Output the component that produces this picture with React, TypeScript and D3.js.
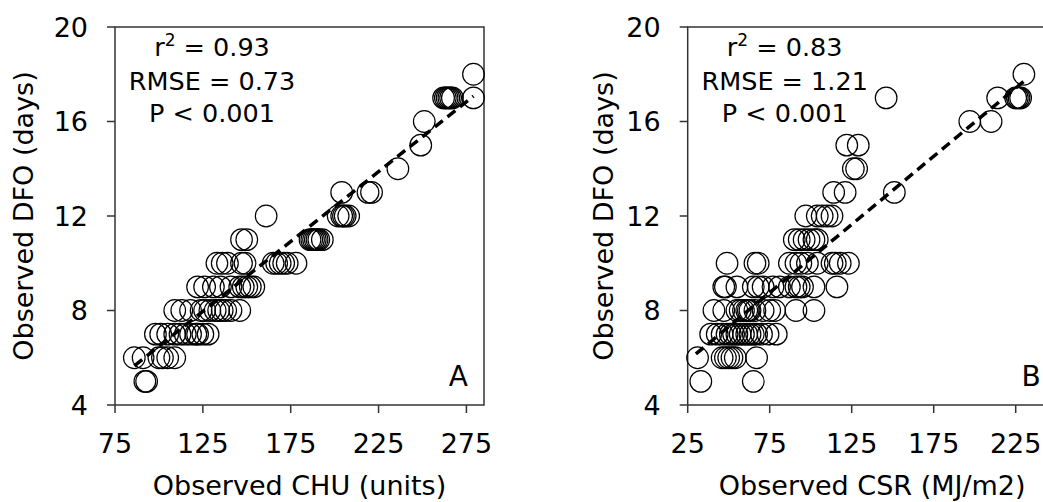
import React from "react";
import * as d3 from "d3";

// Panel A: Observed CHU (units) vs Observed DFO (days)
const chuX: number[] = [
  92, 93,
  86, 91, 100, 102, 105, 109,
  98, 101, 105, 109, 112, 115, 118, 121, 122, 125, 128,
  109, 113, 118, 124, 126, 129, 132, 134, 136, 138, 141, 146,
  122, 126, 131, 135, 141, 146, 148, 150, 152, 154,
  133, 136, 139, 147, 149, 165, 167, 169, 171, 173, 178,
  147, 150, 186, 187, 188, 189, 190, 191, 193,
  161, 202, 204, 205, 206, 208,
  204, 219, 221,
  236,
  249,
  251,
  262, 263, 264, 265, 266, 267, 279,
  279,
];
const chuY: number[] = [
  5, 5,
  6, 6, 6, 6, 6, 6,
  7, 7, 7, 7, 7, 7, 7, 7, 7, 7, 7,
  8, 8, 8, 8, 8, 8, 8, 8, 8, 8, 8, 8,
  9, 9, 9, 9, 9, 9, 9, 9, 9, 9,
  10, 10, 10, 10, 10, 10, 10, 10, 10, 10, 10,
  11, 11, 11, 11, 11, 11, 11, 11, 11,
  12, 12, 12, 12, 12, 12,
  13, 13, 13,
  14,
  15,
  16,
  17, 17, 17, 17, 17, 17, 17,
  18,
];

// Panel B: Observed CSR (MJ/m2) vs Observed DFO (days)
const csrX: number[] = [
  33, 65,
  31, 46, 48, 50, 52, 54, 67,
  39, 43, 46, 49, 51, 53, 55, 57, 59, 61, 63, 65, 67, 70, 74, 79,
  41, 47, 55, 57, 59, 61, 62, 63, 66, 71, 75, 78, 91, 102,
  47, 48, 55, 65, 68, 71, 77, 81, 87, 91, 93, 95, 102, 116,
  49, 66, 68, 87, 91, 94, 98, 104, 113, 115, 118, 123,
  90, 93, 96, 99, 102, 104,
  97, 104, 107, 110, 113,
  114, 121, 151,
  126, 128,
  122, 129,
  197, 210,
  146, 214, 225, 226, 227, 228,
  230,
];
const csrY: number[] = [
  5, 5,
  6, 6, 6, 6, 6, 6, 6,
  7, 7, 7, 7, 7, 7, 7, 7, 7, 7, 7, 7, 7, 7, 7, 7,
  8, 8, 8, 8, 8, 8, 8, 8, 8, 8, 8, 8, 8, 8,
  9, 9, 9, 9, 9, 9, 9, 9, 9, 9, 9, 9, 9, 9,
  10, 10, 10, 10, 10, 10, 10, 10, 10, 10, 10, 10,
  11, 11, 11, 11, 11, 11,
  12, 12, 12, 12, 12,
  13, 13, 13,
  14, 14,
  15, 15,
  16, 16,
  17, 17, 17, 17, 17, 17,
  18,
];

// Regression lines: [x0, y0, x1, y1]
const chuFit: number[] = [86, 5.66, 279, 17.07];
const csrFit: number[] = [30, 6.16, 231, 17.76];

const chuTicks: number[] = [75, 125, 175, 225, 275];
const csrTicks: number[] = [25, 75, 125, 175, 225];
const yTicks: number[] = [4, 8, 12, 16, 20];

const chuStats: string[] = ["= 0.93", "RMSE = 0.73", "P < 0.001"];
const csrStats: string[] = ["= 0.83", "RMSE = 1.21", "P < 0.001"];

const FONT = "'DejaVu Sans', Verdana, sans-serif";

type PanelProps = {
  xs: number[];
  ys: number[];
  fit: number[];
  xDomain: [number, number];
  xTicks: number[];
  left: number;
  xTitle: string;
  yTitleX: number;
  stats: string[];
  letter: string;
};

function Panel(p: PanelProps) {
  const top = 27;
  const bottom = 405;
  const width = 369;
  const right = p.left + width;
  const x = d3.scaleLinear().domain(p.xDomain).range([p.left, right]);
  const y = d3.scaleLinear().domain([4, 20]).range([bottom, top]);
  const tickLen = 8;
  const axisColor = "#333";
  const cx = p.left + 97;
  const statSize = 25.5;
  return (
    <g>
      <rect
        x={p.left}
        y={top}
        width={width}
        height={bottom - top}
        fill="none"
        stroke={axisColor}
        strokeWidth={1.5}
      />
      {yTicks.map((t) => (
        <g key={"y" + t}>
          <line
            x1={p.left - tickLen}
            x2={p.left}
            y1={y(t)}
            y2={y(t)}
            stroke={axisColor}
            strokeWidth={1.5}
          />
          <text
            x={p.left - 27}
            y={y(t)}
            textAnchor="end"
            dominantBaseline="central"
            fontSize={27}
            fontFamily={FONT}
            fill="#000"
          >
            {t}
          </text>
        </g>
      ))}
      {p.xTicks.map((t) => (
        <g key={"x" + t}>
          <line
            x1={x(t)}
            x2={x(t)}
            y1={bottom}
            y2={bottom + tickLen}
            stroke={axisColor}
            strokeWidth={1.5}
          />
          <text
            x={x(t)}
            y={453}
            textAnchor="middle"
            fontSize={27}
            fontFamily={FONT}
            fill="#000"
          >
            {t}
          </text>
        </g>
      ))}
      <text
        x={(p.left + right) / 2}
        y={495}
        textAnchor="middle"
        fontSize={27}
        fontFamily={FONT}
        fill="#000"
      >
        {p.xTitle}
      </text>
      <text
        transform={`translate(${p.yTitleX},${(top + bottom) / 2}) rotate(-90)`}
        textAnchor="middle"
        fontSize={27}
        fontFamily={FONT}
        fill="#000"
      >
        Observed DFO (days)
      </text>
      {p.xs.map((v, i) => (
        <circle
          key={"c" + i}
          cx={x(v)}
          cy={y(p.ys[i])}
          r={10.8}
          fill="none"
          stroke="#000"
          strokeWidth={1.2}
        />
      ))}
      <line
        x1={x(p.fit[0])}
        y1={y(p.fit[1])}
        x2={x(p.fit[2])}
        y2={y(p.fit[3])}
        stroke="#000"
        strokeWidth={3.5}
        strokeDasharray="10,6"
      />
      <text x={cx} y={56} textAnchor="middle" fontSize={statSize} fontFamily={FONT} fill="#000">
        <tspan>r</tspan>
        <tspan dy={-10} fontSize={17}>2</tspan>
        <tspan dy={10}> {p.stats[0]}</tspan>
      </text>
      <text x={cx} y={90} textAnchor="middle" fontSize={statSize} fontFamily={FONT} fill="#000">
        {p.stats[1]}
      </text>
      <text x={cx} y={122} textAnchor="middle" fontSize={statSize} fontFamily={FONT} fill="#000">
        {p.stats[2]}
      </text>
      <text x={right - 16} y={386} textAnchor="end" fontSize={28} fontFamily={FONT} fill="#000">
        {p.letter}
      </text>
    </g>
  );
}

export default function App() {
  return (
    <svg
      width={1043}
      height={502}
      style={{ position: "absolute", left: 0, top: 0, background: "#fff" }}
    >
      <rect width={1043} height={502} fill="#fff" />
      <Panel
        xs={chuX}
        ys={chuY}
        fit={chuFit}
        xDomain={[75, 285]}
        xTicks={chuTicks}
        left={115}
        xTitle="Observed CHU (units)"
        yTitleX={33}
        stats={chuStats}
        letter="A"
      />
      <Panel
        xs={csrX}
        ys={csrY}
        fit={csrFit}
        xDomain={[25, 250]}
        xTicks={csrTicks}
        left={687.7}
        xTitle="Observed CSR (MJ/m2)"
        yTitleX={613}
        stats={csrStats}
        letter="B"
      />
    </svg>
  );
}
